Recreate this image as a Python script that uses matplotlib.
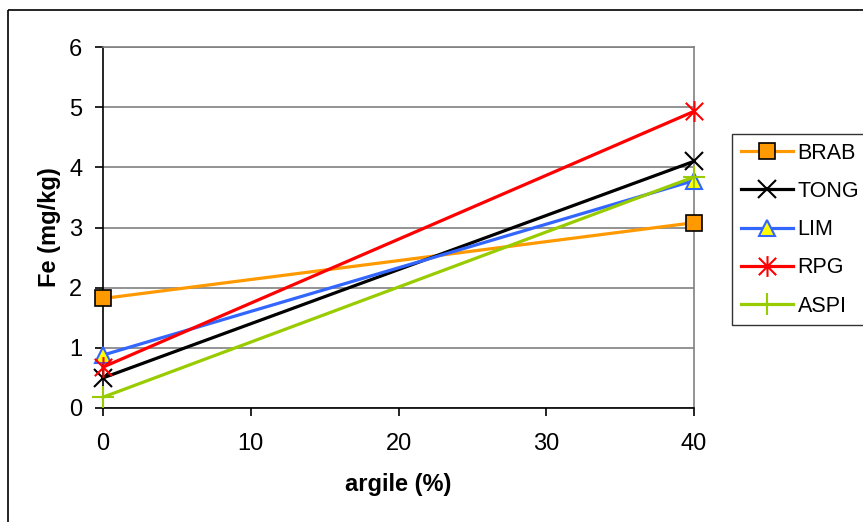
import matplotlib
matplotlib.use("Agg")
import matplotlib.pyplot as plt
from matplotlib.patches import Rectangle
from matplotlib.path import Path

plt.rcParams['font.family'] = ['Liberation Sans', 'DejaVu Sans']

# Clay content (%) and iron content (mg/kg) per soil
argile = [0, 40]
brab = [1.82, 3.08]
tong = [0.50, 4.10]
lim = [0.88, 3.78]
rpg = [0.68, 4.93]
aspi = [0.18, 3.84]

x_ticks = [0, 10, 20, 30, 40]
y_ticks = [0, 1, 2, 3, 4, 5, 6]

W, H = 863, 522
FS = 17
fig = plt.figure(figsize=(W / 100, H / 100), dpi=100)

# outer chart frame
fig.patches.append(Rectangle((8 / W, 1 - 10 / H), 2, -2, transform=fig.transFigure,
                             fill=False, edgecolor='black', linewidth=1.2, zorder=0))

ax = fig.add_axes([103 / W, 1 - 408 / H, (694 - 103) / W, (408 - 47) / H])

# asterisk marker: an X crossed by a vertical stroke
star = Path([(-1, -1), (1, 1), (-1, 1), (1, -1), (0, -1.2), (0, 1.2)],
            [Path.MOVETO, Path.LINETO, Path.MOVETO, Path.LINETO, Path.MOVETO, Path.LINETO])

series = [
    ("BRAB", brab, dict(color='#FF9900', marker='s', markersize=11,
                        markerfacecolor='#FF9900', markeredgecolor='black', markeredgewidth=1.2)),
    ("TONG", tong, dict(color='black', marker='x', markersize=13, markeredgewidth=1.5)),
    ("LIM", lim, dict(color='#3366FF', marker='^', markersize=12,
                      markerfacecolor='#FFFF00', markeredgecolor='#3366FF', markeredgewidth=1.5)),
    ("RPG", rpg, dict(color='#FF0000', marker=star, markersize=15, markeredgewidth=1.5)),
    ("ASPI", aspi, dict(color='#99CC00', marker='+', markersize=16, markeredgewidth=1.5)),
]
for name, vals, style in series:
    ax.plot(argile, vals, label=name, linewidth=2.3, clip_on=False, zorder=3, **style)

ax.set_xlim(0, 40)
ax.set_ylim(0, 6)
ax.set_xticks(x_ticks)
ax.set_yticks(y_ticks)
ax.grid(axis='y', color='#808080', linewidth=1.2, zorder=1)
for side in ('top', 'right'):
    ax.spines[side].set_color('#808080')
    ax.spines[side].set_linewidth(1.2)
for side in ('left', 'bottom'):
    ax.spines[side].set_color('black')
    ax.spines[side].set_linewidth(1.2)
ax.tick_params(axis='both', direction='out', length=6, width=1.2, labelsize=FS)
ax.tick_params(axis='x', pad=12)
ax.tick_params(axis='y', pad=9)

ax.set_xlabel('argile (%)', fontsize=FS, fontweight='bold', labelpad=13)
ax.set_ylabel('Fe (mg/kg)', fontsize=FS, fontweight='bold', labelpad=6)

leg = ax.legend(loc='upper left', bbox_to_anchor=(732 / W, 1 - 134 / H),
                bbox_transform=fig.transFigure, frameon=True, fancybox=False,
                edgecolor='black', fontsize=15.5, handlelength=2.45, handletextpad=0.2,
                labelspacing=0.8, borderpad=0.4, borderaxespad=0)
leg.get_frame().set_linewidth(1.0)

fig.savefig('out.png', dpi=100)
